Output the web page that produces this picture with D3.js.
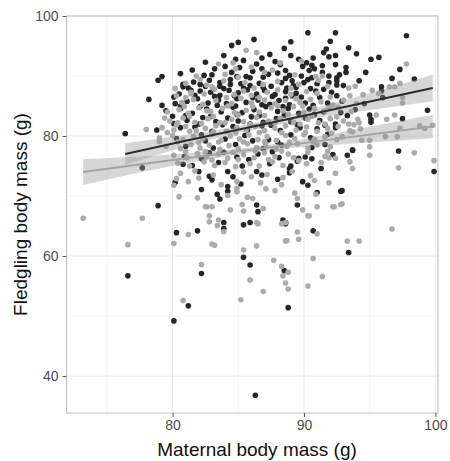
<!DOCTYPE html>
<html>
<head>
<meta charset="utf-8">
<script src="https://cdn.jsdelivr.net/npm/d3@7"></script>
<style>
  body { margin: 0; background: #fff; }
  text { font-family: "Liberation Sans", Arial, sans-serif; }
</style>
</head>
<body>
<div id="chart"></div>
<script>
// axis ticks
const xTicks = [80, 90, 100];
const yTicks = [40, 60, 80, 100];
const xMinor = [75, 85, 95];
const yMinor = [50, 70, 90];

// dark group: [maternal mass, fledgling mass]
const darkPts = [
  [76.6,56.7],[82.2,57.1],[81.2,51.7],[80.1,49.2],[85.4,59.8],[85.9,58.5],[88.5,57.6],[88.8,51.4],[93.4,60.6],[86.3,36.8],
  [97.2,77.5],[99.9,74.1],[93.3,76.8],[93.7,77.6],[92.8,70.8],[91.3,74.6],[91.0,70.6],[89.5,68.5],[90.7,64.2],[88.6,65.6],[90.3,71.8],[88.9,74.6],
  [78.9,68.4],[80.3,63.9],[81.9,64.2],[88.4,66.0],[85.4,65.2],[85.9,65.6],[83.9,65.6],[83.9,64.6],[83.4,70.3],[83.6,69.5],[86.4,68.5],[86.5,67.4],
  [82.2,71.1],[80.8,75.3],[81.5,75.1],[82.0,74.1],[82.8,73.3],[83.0,72.7],[84.2,74.1],[84.2,71.6],[86.4,74.1],[86.8,73.5],[88.0,72.8],[88.6,65.4],
  [76.4,80.4],[77.7,74.7],
  [84.5,95.1],[85.0,95.6],[86.2,96.1],[84.8,92.8],[85.4,92.6],[86.8,93.0],[88.5,94.6],[78.9,89.3],[79.2,89.9],[78.2,86.1],[79.2,85.1],[80.8,88.6],
  [80.2,85.4],[80.0,83.3],[80.6,81.4],[82.1,88.6],[82.1,87.5],[83.0,90.2],[83.6,88.9],[84.4,89.4],[85.2,88.7],[85.9,89.7],[86.1,90.8],[86.8,91.2],[87.3,90.3],
  [90.3,97.2],[92.4,97.2],[89.0,95.7],[92.0,95.8],[97.8,96.7],[93.4,94.7],[94.0,93.7],[95.1,92.8],[95.7,93.1],[91.5,93.9],[91.7,94.5],[91.9,93.2],
  [92.4,93.4],[92.4,91.9],[89.6,92.8],[89.9,91.6],[90.2,92.2],[90.6,91.8],[90.8,91.2],[90.4,90.9],[88.6,90.9],[88.9,90.1],[89.1,89.2],[89.8,90.0],
  [91.4,91.7],[91.4,90.6],[93.2,91.4],[93.2,90.6],[94.2,89.2],[96.7,89.6],[98.4,89.5],[92.5,89.7],[92.5,89.2],[91.9,90.0],[95.9,88.2],[95.9,87.5],
  [92.9,85.8],[91.2,86.4],[90.9,87.5],[91.8,85.5],[90.1,85.5],[89.1,86.7],[89.4,88.1],[88.6,86.3],[95.1,82.8],[95.1,82.3],[97.5,82.9],[99.4,84.3],
  [92.4,82.0],[92.4,81.4],[95.0,83.5],[93.7,77.7],[92.9,70.9],
  [82.5,92.3],[84.0,91.6],[87.8,92.4],[88.2,91.9],
  [80.6,90.4],[82.4,90.1],[84.5,90.6],[85.6,89.9],[88.0,90.5],[90.6,89.7],[92.7,90.2],
  [80.8,88.2],[81.6,89.0],[83.6,88.3],[84.4,88.6],[85.9,88.4],[86.6,88.8],[87.5,88.3],[88.3,88.9],[89.2,88.4],[90.0,88.9],[91.0,88.7],[92.5,88.5],
  [80.5,87.0],[81.4,87.6],[82.9,87.3],[83.6,86.8],[84.3,87.6],[85.0,87.2],[85.7,87.7],[86.4,87.0],[87.0,87.6],[87.8,86.9],[88.6,87.4],[89.4,87.1],[91.5,87.8],
  [81.1,85.8],[81.9,86.2],[82.7,85.5],[83.5,86.0],[84.1,85.4],[84.9,86.2],[85.6,85.6],[86.5,86.0],[87.4,85.3],[88.1,85.9],[88.9,85.2],
  [79.5,84.2],[80.6,84.6],[81.5,83.8],[82.6,84.5],[83.7,84.0],[84.6,84.8],[85.3,83.9],[86.2,84.4],[87.1,84.9],[88.0,84.1],[88.8,84.6],[89.6,83.8],
  [90.4,84.5],[91.5,84.0],[93.9,84.4],
  [81.1,82.6],[82.3,83.1],[83.3,82.4],[84.2,83.0],[85.0,82.5],[86.0,83.2],[86.9,82.3],[87.9,82.9],[89.0,82.4],[90.1,83.0],[91.2,82.6],
  [78.8,81.0],[81.7,81.5],[83.0,80.8],[84.6,81.6],[85.7,81.0],[86.8,81.7],[88.2,80.9],[89.7,81.4],[91.0,81.2],
  [80.3,79.6],[82.2,80.2],[84.0,79.5],[85.5,80.1],[87.3,79.4],[89.0,80.2],[90.5,79.7],
  [81.0,78.3],[83.1,78.0],[84.8,78.6],[86.9,77.9],[88.3,78.5],[90.6,78.1],
  [80.9,76.6],[82.8,77.2],[84.9,76.5],[86.5,77.0],[88.1,76.4],[89.6,76.3],[90.1,76.5],[90.6,76.2],[92.2,76.9],
  [83.5,75.6],[85.3,75.0],[87.4,75.4],[89.5,75.8],[88.9,73.9],[84.6,73.2],[80.2,72.3],[85.2,72.0],[89.9,72.4],[84.2,70.8],
  [81.5,91.0],[83.2,91.2],[85.1,91.4],[86.4,92.0],[87.4,93.6],[89.0,93.4],[90.7,93.0],[83.9,93.4],[82.8,89.3],[84.9,89.9],[86.9,89.8],[88.6,89.6],
  [90.3,89.4],[91.9,88.9],[93.0,88.4],[81.2,88.0],[82.5,88.3],[83.9,87.9],[85.4,88.0],[86.9,88.1],[88.7,88.0],[90.5,87.9],[92.1,87.3],[80.1,86.5],
  [81.7,86.8],[83.2,86.6],[84.7,86.7],[86.1,86.4],[87.6,86.6],[89.8,86.5],[92.5,86.7],[80.6,85.0],[82.1,84.9],[83.4,85.1],[84.8,85.0],[86.8,85.2],
  [88.4,84.9],[90.7,85.1],[93.3,83.4],[81.0,83.4],[82.9,83.3],[84.9,83.6],[86.6,83.4],[88.5,83.5],[90.8,83.6],[92.8,83.9],[80.1,82.1],[82.0,82.0],
  [83.8,81.9],[85.9,82.0],[87.5,81.8],[89.5,81.9],[91.6,81.8],[82.5,79.2],[86.1,79.2],[88.0,79.0],[91.8,80.3],[83.9,77.3],[87.6,77.4],[85.8,76.1],
  [82.2,76.2],[89.0,75.0],[91.6,78.6],[94.6,85.4],[96.0,86.4],[94.7,90.6],[97.3,91.1]
];

// light group
const lightPts = [
  [73.2,66.3],[77.7,66.3],[76.6,61.9],[82.2,58.6],[80.8,52.6],[85.4,61.0],[85.9,56.0],[85.2,52.7],[86.9,54.1],[87.7,59.3],[88.3,58.3],
  [88.8,57.3],[88.4,56.7],[88.6,55.5],[88.8,54.5],[90.3,55.0],[90.7,59.6],[91.4,56.6],
  [98.4,77.2],[99.9,75.9],[97.2,74.7],[96.7,64.5],[93.3,62.5],[94.2,62.5],[93.5,75.7],[93.7,74.6],[92.4,73.8],[91.9,72.2],[91.6,76.6],[91.9,76.4],
  [92.4,76.3],[90.9,70.3],[92.8,68.6],[92.2,68.2],[91.0,68.2],[90.3,66.7],[89.9,67.7],[89.5,69.6],[91.0,63.7],[89.5,64.0],[89.6,62.8],[88.7,62.6],
  [81.2,63.6],[80.1,62.1],[83.0,62.0],[86.4,61.7],[88.6,62.5],[88.6,65.6],[86.4,65.6],[83.5,66.0],[82.8,66.7],[82.8,65.7],[82.5,68.2],[83.0,68.2],
  [80.5,69.9],[81.9,69.7],[84.2,70.1],[84.4,67.7],[85.3,68.6],[85.4,67.5],[86.1,69.6],[85.7,69.8],[86.9,67.9],[80.1,71.8],[80.3,72.9],[83.4,65.1],
  [83.9,64.1],[83.2,61.8],[82.6,68.2],[88.3,65.4],[86.5,65.4],[92.3,68.2],[92.9,68.7],[90.4,66.7],
  [97.3,81.3],[98.8,81.7],[99.2,81.3],[99.8,81.8],[96.2,79.9],[97.1,79.9],[95.0,79.3],[95.0,78.2],[93.7,80.7],[94.4,79.3],[97.8,92.0],
  [91.1,89.3],[91.4,90.0],[91.8,88.3],[93.4,88.0],[93.9,88.3],[93.5,86.7],[94.5,86.9],[95.2,87.6],[95.7,87.1],[96.5,88.2],[96.9,88.2],[97.3,88.8],
  [97.5,86.4],[96.9,83.5],[95.5,83.5],[96.3,82.8],[94.1,82.8],[93.4,82.0],[93.8,81.9],[94.2,82.2],
  [84.6,92.2],[88.2,92.2],[80.2,87.9],[80.3,86.7],[82.1,89.4],[81.4,87.0],[80.4,82.2],[79.0,79.1],
  [83.5,92.0],[86.0,91.5],[89.8,92.5],
  [81.8,90.0],[84.0,90.3],[85.0,89.8],[87.0,90.6],[89.3,90.2],[90.9,89.9],
  [81.0,88.8],[82.6,88.5],[83.9,89.2],[85.5,88.9],[86.9,88.6],[88.0,89.1],[89.6,88.6],
  [81.4,87.3],[82.4,87.0],[83.2,87.8],[84.7,86.9],[85.4,87.5],[86.0,86.8],[87.2,87.3],[88.0,87.7],[89.0,86.9],[90.2,87.4],[91.0,87.1],
  [80.7,85.6],[81.6,86.1],[82.3,85.3],[83.3,85.9],[84.5,85.4],[85.2,86.3],[86.0,85.5],[87.0,86.0],[87.8,85.4],[88.6,85.9],[89.7,85.6],[90.5,86.1],
  [91.3,85.7],[92.2,85.2],[93.0,86.0],[94.0,85.4],[97.5,85.5],
  [79.6,84.0],[80.5,84.4],[81.2,83.8],[82.0,84.7],[82.9,84.1],[83.8,84.6],[84.7,83.9],[85.6,84.3],[86.6,84.0],[87.5,84.7],[88.4,84.2],[89.2,84.9],
  [90.0,84.0],[90.8,84.6],[91.6,84.2],[92.6,84.8],[93.6,84.1],
  [79.8,82.5],[80.8,83.0],[81.7,82.3],[82.7,82.9],[83.6,82.2],[84.5,82.8],[85.4,82.4],[86.4,83.1],[87.3,82.5],[88.2,83.0],[89.2,82.3],[90.3,82.8],
  [91.1,82.2],[92.0,82.9],
  [78.0,81.1],[79.2,81.4],[80.1,81.0],[81.0,81.6],[81.8,80.9],[82.5,81.3],[83.3,81.7],[84.1,80.8],[84.9,81.4],[85.6,81.0],[86.3,81.6],[87.0,80.9],
  [87.8,81.3],[88.6,81.7],[89.4,81.0],[90.2,81.5],[91.0,80.8],[91.8,81.3],[92.6,81.6],[93.5,80.9],[94.3,81.2],
  [79.0,79.7],[80.0,80.1],[80.8,79.4],[81.6,80.0],[82.3,79.6],[83.0,80.3],[83.7,79.3],[84.4,80.0],[85.1,79.5],[85.8,80.2],[86.5,79.4],[87.2,79.9],
  [87.9,79.3],[88.6,80.1],[89.3,79.6],[90.0,80.2],[90.8,79.5],[91.6,79.9],[92.5,79.4],
  [79.5,78.3],[80.6,77.9],[81.4,78.6],[82.1,78.0],[82.8,78.5],[83.6,77.8],[84.3,78.4],[85.0,77.9],[85.7,78.7],[86.4,78.1],[87.1,78.6],[87.9,77.8],
  [88.7,78.3],[89.5,78.7],[90.3,78.0],[91.0,78.5],[92.0,78.2],
  [80.1,76.8],[81.1,76.4],[81.9,77.1],[82.6,76.5],[83.5,77.0],[84.2,76.3],[85.4,76.9],[86.2,76.4],[87.0,77.2],[87.8,76.6],[88.8,77.0],[89.2,76.4],[95.0,76.8],
  [80.4,75.5],[81.3,75.0],[82.4,75.7],[83.2,75.1],[84.0,75.6],[84.8,74.9],[85.9,75.4],[86.6,75.0],[87.6,75.7],[88.4,75.1],[90.2,75.4],[91.3,75.6],
  [80.6,73.8],[81.7,74.2],[83.1,73.5],[85.4,74.0],[87.2,73.6],[89.1,74.1],[90.5,73.4],
  [81.2,72.4],[84.9,72.4],[84.9,71.3],[86.7,72.2],[88.3,71.9],[90.8,72.6],[84.9,70.7],[87.8,70.9],[89.3,70.5],
  [80.9,84.9],[82.6,84.2],[84.2,85.0],[86.1,84.9],[88.0,85.0],[89.9,85.0],[91.9,84.7],[79.4,83.0],[81.3,83.3],[83.1,83.3],[85.0,83.5],[87.0,83.4],
  [88.8,83.6],[90.6,83.3],[92.5,83.2],[80.3,81.9],[82.2,82.1],[84.0,82.2],[85.9,81.9],[87.8,82.2],[89.7,82.0],[91.6,82.0],[93.0,82.5],[79.6,80.6],
  [81.3,80.8],[83.1,80.7],[84.8,80.5],[86.6,80.6],[88.3,80.6],[90.1,80.6],[92.1,80.5],[80.4,79.0],[82.0,78.9],[83.5,79.0],[85.4,79.0],[87.0,79.1],
  [88.9,79.0],[90.7,79.0],[92.9,79.9],[81.0,77.4],[82.5,77.4],[84.6,77.3],[86.3,77.5],[88.3,77.5],[90.3,77.3],[91.8,77.4],[83.0,76.0],[85.0,76.1],
  [87.3,76.1],[89.6,75.9],[82.0,73.0],[86.0,73.2],[88.4,73.1],[87.1,71.2],[83.7,71.9],[81.0,86.4],[84.1,86.4],[86.6,86.4],[89.4,86.2],[92.0,86.5],
  [83.0,88.2],[86.2,88.0],[89.0,88.0],[84.8,91.2],[87.6,91.0],[86.4,93.9],[85.6,94.3]
];

// fitted lines and their bands, read at a few x positions
const darkFitX  = [76.4, 81, 86.5, 93, 99.8];
const darkFitY  = [77.0, 79.2, 81.75, 84.8, 88.0];
const darkFitLo = [75.2, 78.2, 81.2, 83.7, 85.8];
const darkFitHi = [78.8, 80.2, 82.3, 85.9, 90.2];
const lightFitX  = [73.2, 79, 86, 92, 99.8];
const lightFitY  = [74.0, 75.7, 77.7, 79.4, 81.6];
const lightFitLo = [71.85, 74.6, 77.25, 78.5, 79.65];
const lightFitHi = [76.15, 76.8, 78.15, 80.3, 83.55];

const width = 450, height = 461;
const panel = {left: 66.5, right: 438, top: 16, bottom: 413};

const svg = d3.select("#chart")
  .append("svg")
    .attr("width", width)
    .attr("height", height);

const x = d3.scaleLinear().domain([71.93, 100.2]).range([panel.left, panel.right]);
const y = d3.scaleLinear().domain([33.85, 100]).range([panel.bottom, panel.top]);

// gridlines
const grid = svg.append("g");
grid.selectAll(".xminor").data(xMinor).join("line")
  .attr("x1", d => x(d)).attr("x2", d => x(d))
  .attr("y1", panel.top).attr("y2", panel.bottom)
  .attr("stroke", "#f4f4f4").attr("stroke-width", 0.8);
grid.selectAll(".yminor").data(yMinor).join("line")
  .attr("y1", d => y(d)).attr("y2", d => y(d))
  .attr("x1", panel.left).attr("x2", panel.right)
  .attr("stroke", "#f4f4f4").attr("stroke-width", 0.8);
grid.selectAll(".xmajor").data(xTicks).join("line")
  .attr("x1", d => x(d)).attr("x2", d => x(d))
  .attr("y1", panel.top).attr("y2", panel.bottom)
  .attr("stroke", "#ebebeb").attr("stroke-width", 1);
grid.selectAll(".ymajor").data(yTicks).join("line")
  .attr("y1", d => y(d)).attr("y2", d => y(d))
  .attr("x1", panel.left).attr("x2", panel.right)
  .attr("stroke", "#ebebeb").attr("stroke-width", 1);

// points
svg.append("g").selectAll("circle")
  .data(darkPts)
  .join("circle")
    .attr("cx", d => x(d[0]))
    .attr("cy", d => y(d[1]))
    .attr("r", 2.8)
    .attr("fill", "#262626");

svg.append("g").selectAll("circle")
  .data(lightPts)
  .join("circle")
    .attr("cx", d => x(d[0]))
    .attr("cy", d => y(d[1]))
    .attr("r", 2.8)
    .attr("fill", "#ababab");

// bands + lines
function drawFit(xs, ys, lo, hi, col) {
  const rows = xs.map((v, i) => ({x: v, y: ys[i], lo: lo[i], hi: hi[i]}));
  const band = d3.area()
    .x(d => x(d.x)).y0(d => y(d.lo)).y1(d => y(d.hi))
    .curve(d3.curveNatural);
  svg.append("path")
    .datum(rows)
    .attr("d", band)
    .attr("fill", "#999999")
    .attr("fill-opacity", 0.4);
  svg.append("path")
    .datum(rows)
    .attr("d", d3.line().x(d => x(d.x)).y(d => y(d.y)))
    .attr("fill", "none")
    .attr("stroke", col)
    .attr("stroke-width", 2);
}
drawFit(lightFitX, lightFitY, lightFitLo, lightFitHi, "#a3a3a3");
drawFit(darkFitX, darkFitY, darkFitLo, darkFitHi, "#2b2b2b");

// panel border
svg.append("rect")
  .attr("x", panel.left).attr("y", panel.top)
  .attr("width", panel.right - panel.left)
  .attr("height", panel.bottom - panel.top)
  .attr("fill", "none")
  .attr("stroke", "#bdbdbd")
  .attr("stroke-width", 1);

// axes
const xAxis = svg.append("g")
  .attr("transform", `translate(0,${panel.bottom})`)
  .call(d3.axisBottom(x).tickValues(xTicks).tickSize(4).tickPadding(3));
const yAxis = svg.append("g")
  .attr("transform", `translate(${panel.left},0)`)
  .call(d3.axisLeft(y).tickValues(yTicks).tickSize(4).tickPadding(4));

[xAxis, yAxis].forEach(a => {
  a.select(".domain").remove();
  a.selectAll(".tick line").attr("stroke", "#555");
  a.selectAll(".tick text")
    .attr("fill", "#4d4d4d")
    .style("font-size", "14px")
    .style("font-family", "'Liberation Sans', Arial, sans-serif");
});

// axis titles
svg.append("text")
  .attr("x", 257)
  .attr("y", 456)
  .attr("text-anchor", "middle")
  .style("font-size", "19px")
  .attr("fill", "#111")
  .text("Maternal body mass (g)");

svg.append("text")
  .attr("transform", `translate(27,${(panel.top + panel.bottom) / 2}) rotate(-90)`)
  .attr("text-anchor", "middle")
  .style("font-size", "19px")
  .attr("fill", "#111")
  .text("Fledgling body mass (g)");
</script>
</body>
</html>
